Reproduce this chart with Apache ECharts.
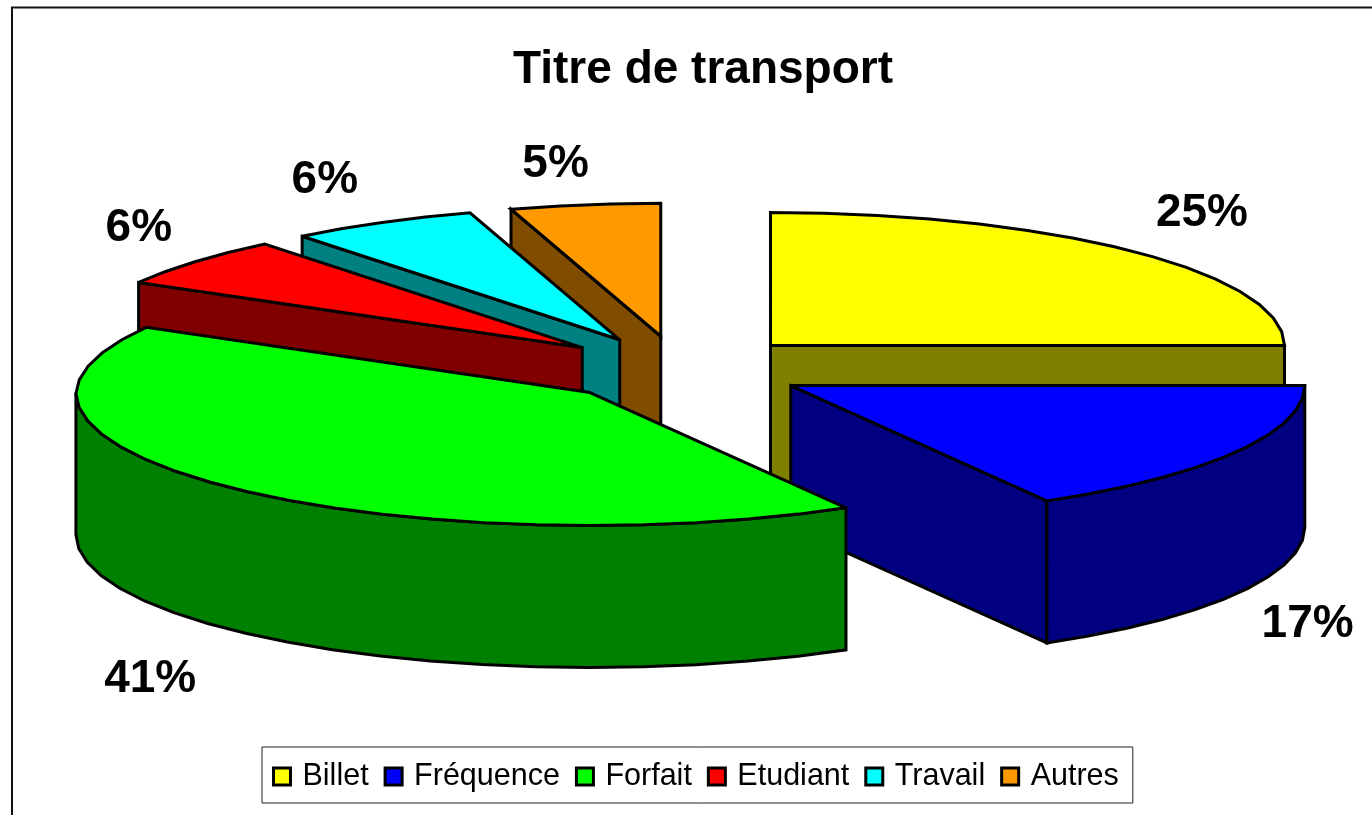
<!DOCTYPE html>
<html><head><meta charset="utf-8">
<style>html,body{margin:0;padding:0;background:#fff}#c{width:1372px;height:815px}</style>
<script src="https://cdn.jsdelivr.net/npm/echarts@6/dist/echarts.min.js"></script>
</head><body><div id="c"></div>
<script>
const categories = ['Billet','Fréquence','Forfait','Etudiant','Travail','Autres'];
const shares = [25.0,16.7,41.45,6.05,6.0,4.8];
const topColors = ['#FFFF00','#0000FF','#00FF00','#FF0000','#00FFFF','#FF9900'];
const sideColors = ['#808000','#000080','#008000','#800000','#008080','#804D00'];
// painter's order: higher layers are drawn in front
const layers = [3,4,5,2,1,0];
// label offset from the mid-arc point of each slice
const labelOffsets = [[68,-38],[72,172],[-78,192],[-51,-33],[-53,-42],[-28,-40]];

const PIE = {cx:680, cy:369, rx:514, ry:133, depth:142, explode:128, step:6, foreshorten:0.02};
const LINE = {stroke:'#000', lineWidth:3, lineJoin:'miter', miterLimit:3};
const total = shares.reduce((a,b)=>a+b,0);
const starts = shares.map((_,i)=>shares.slice(0,i).reduce((a,b)=>a+b,0)/total*360);
const rad = d => d*Math.PI/180;

function arcPts(ax,ay,a0,a1,dy){
  const n = Math.max(1,Math.ceil((a1-a0)/PIE.step)), pts=[];
  for(let k=0;k<=n;k++){
    const t=rad(a0+(a1-a0)*k/n);
    const s=Math.sin(t), c=Math.cos(t);
    const scale=(s<0 && c>0) ? 1-PIE.foreshorten*c : 1;
    pts.push([ax+PIE.rx*s*scale, ay-PIE.ry*c+dy]);
  }
  return pts;
}
function poly(points,fill,z2){
  return {type:'polygon',shape:{points},z2,style:Object.assign({fill},LINE)};
}
function makeRender(i){
  return function(params,api){
    const value=api.value(0);
    const a0=starts[i], a1=a0+value/total*360, mid=rad((a0+a1)/2);
    const ax=PIE.cx+PIE.explode*Math.sin(mid);
    const ay=PIE.cy-PIE.explode*PIE.ry/PIE.rx*Math.cos(mid);
    const top=arcPts(ax,ay,a0,a1,0), children=[];
    const first=top[0], last=top[top.length-1], d=PIE.depth;
    if(Math.sin(rad(a0))<-1e-6)
      children.push(poly([[ax,ay],first,[first[0],first[1]+d],[ax,ay+d]],sideColors[i],1));
    if(Math.sin(rad(a1))>1e-6)
      children.push(poly([[ax,ay],last,[last[0],last[1]+d],[ax,ay+d]],sideColors[i],1));
    const w0=Math.max(a0,90), w1=Math.min(a1,270);
    if(w1>w0){
      const up=arcPts(ax,ay,w0,w1,0), down=arcPts(ax,ay,w0,w1,d).reverse();
      children.push(poly(up.concat(down),sideColors[i],2));
    }
    children.push(poly([[ax,ay]].concat(top),topColors[i],3));
    const mx=ax+PIE.rx*Math.sin(mid), my=ay-PIE.ry*Math.cos(mid);
    children.push({type:'text',z2:4,style:{
      x:mx+labelOffsets[i][0], y:my+labelOffsets[i][1],
      text:Math.round(value)+'%', align:'center', verticalAlign:'middle',
      font:'bold 46px "Liberation Sans", Arial, sans-serif', fill:'#000'}});
    return {type:'group',children};
  };
}
const chart=echarts.init(document.getElementById('c'),null,{renderer:'canvas'});
chart.setOption({
  animation:false,
  backgroundColor:'#fff',
  title:{text:'Titre de transport',left:513,top:47,padding:0,
    textStyle:{fontFamily:'"Liberation Sans", Arial, sans-serif',fontWeight:'bold',fontSize:46,color:'#000'}},
  legend:{
    data:categories, left:262, top:747, orient:'horizontal',
    padding:[14,14,11,10], itemGap:15, itemWidth:17, itemHeight:17,
    icon:'rect', selectedMode:false,
    borderColor:'#222', borderWidth:1, backgroundColor:'#fff',
    itemStyle:{borderColor:'#000',borderWidth:3},
    textStyle:{fontFamily:'"Liberation Sans", Arial, sans-serif',fontSize:30.5,color:'#000',padding:[0,0,0,7]}
  },
  graphic:[
    {type:'polyline',silent:true,shape:{points:[[12,815],[12,7.5],[1372,7.5]]},style:{stroke:'#111',lineWidth:2,fill:null}}
  ],
  series:categories.map((name,i)=>({
    type:'custom', name, coordinateSystem:'none', silent:true, z:2+layers[i],
    itemStyle:{color:topColors[i]},
    data:[[shares[i]]], renderItem:makeRender(i)
  }))
});
</script></body></html>
